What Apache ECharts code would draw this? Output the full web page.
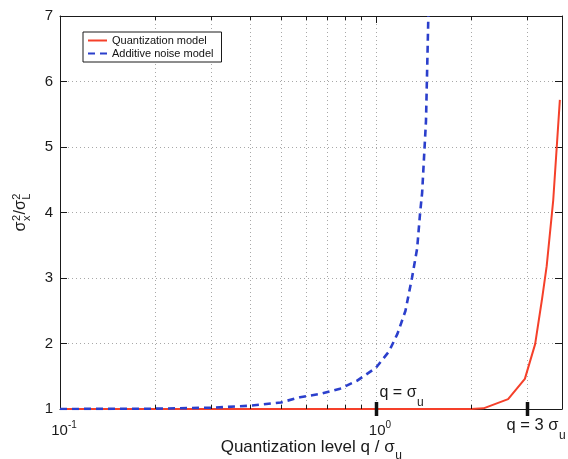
<!DOCTYPE html>
<html><head><meta charset="utf-8">
<script src="https://cdn.jsdelivr.net/npm/echarts@6/dist/echarts.min.js"></script>
<style>html,body{margin:0;padding:0;background:#fff}#c{width:568px;height:459px}</style>
</head><body><div id="c"></div>
<script>
// ---- data ----
const seriesNames = ['Quantization model', 'Additive noise model'];
const quantQ   = [0.1, 0.5, 1.0, 1.5, 2.0, 2.19, 2.62, 2.96, 3.19, 3.35, 3.47, 3.64, 3.82];
const quantVal = [1.0, 1.0, 1.0, 1.0, 1.0, 1.01, 1.15, 1.46, 1.99, 2.66, 3.18, 4.19, 5.72];
const addQ   = [0.1, 0.2, 0.3, 0.4, 0.5, 0.575, 0.665, 0.77, 0.87, 1.0, 1.1, 1.17, 1.24, 1.3, 1.35, 1.38, 1.4, 1.44, 1.465];
const addVal = [1.0, 1.005, 1.02, 1.05, 1.1, 1.18, 1.23, 1.31, 1.43, 1.63, 1.88, 2.15, 2.5, 3.0, 3.45, 4.0, 4.3, 5.4, 7.0];
const X_MIN = 0.1, X_MAX = 3.88;
const Y_MIN = 1, Y_MAX = 7, Y_STEP = 1;
const xMinorTicks = [0.2, 0.3, 0.4, 0.5, 0.6, 0.7, 0.8, 0.9, 2, 3];
const annotations = [
  { q: 1, text: 'q = \u03c3', sub: 'u', place: 'above' },
  { q: 3, text: 'q = 3 \u03c3', sub: 'u', place: 'below' }
];
const xName = 'Quantization level q / \u03c3', xNameSub = 'u';

// ---- style ----
const FONT = '"Liberation Sans", Arial, Helvetica, sans-serif';
const AX = '#1a1a1a', GRID = '#a8a8a8';
const RED = '#f5402a', BLUE = '#2b3fcc';

const cv = document.createElement('canvas').getContext('2d');
function tw(t, size) { cv.font = size + 'px ' + FONT; return cv.measureText(t).width; }

const chart = echarts.init(document.getElementById('c'));
function fmtLog(v) {
  const e = Math.log10(v), r = Math.round(e);
  if (Math.abs(e - r) > 1e-6) return '';
  return '{b|10}{s|' + r + '}';
}
const axisCommon = {
  axisLine: { show: true, onZero: false, lineStyle: { color: AX, width: 1 } },
  axisTick: { show: true, inside: true, length: 7, lineStyle: { color: AX, width: 1 } }
};
const option = {
  animation: false,
  backgroundColor: '#fff',
  textStyle: { fontFamily: FONT },
  grid: { left: 60, right: 6, top: 16, bottom: 50 },
  legend: {
    data: seriesNames, orient: 'vertical', left: 83, top: 32,
    itemWidth: 19, itemHeight: 10, itemGap: 2,
    padding: [3, 8, 3, 4],
    borderColor: AX, borderWidth: 1, backgroundColor: '#fff',
    itemStyle: { opacity: 0 },
    textStyle: { fontSize: 11, color: '#111', fontFamily: FONT }
  },
  xAxis: [
    Object.assign({
      type: 'log', logBase: 10, min: X_MIN, max: X_MAX, position: 'bottom',
      axisLabel: { formatter: fmtLog, margin: 11, color: AX,
        rich: { b: { fontSize: 15, color: AX, lineHeight: 18, verticalAlign: 'bottom', fontFamily: FONT, padding: [0, 0, 0, 8] },
                s: { fontSize: 10, color: AX, lineHeight: 10, verticalAlign: 'top', fontFamily: FONT } } },
      splitLine: { show: true, lineStyle: { color: GRID, type: [1, 3], width: 1 } }
    }, axisCommon),
    Object.assign({
      type: 'log', logBase: 10, min: X_MIN, max: X_MAX, position: 'top',
      axisLabel: { show: false }, splitLine: { show: false }
    }, axisCommon)
  ],
  yAxis: [
    Object.assign({
      type: 'value', min: Y_MIN, max: Y_MAX, interval: Y_STEP, position: 'left',
      axisLabel: { fontSize: 15, color: AX, margin: 7, fontFamily: FONT },
      splitLine: { show: true, lineStyle: { color: GRID, type: [1, 3], width: 1 } }
    }, axisCommon),
    Object.assign({
      type: 'value', min: Y_MIN, max: Y_MAX, interval: Y_STEP, position: 'right',
      axisLabel: { show: false }, splitLine: { show: false }
    }, axisCommon)
  ],
  series: [
    { name: seriesNames[0], type: 'line', data: quantQ.map((q, i) => [q, quantVal[i]]),
      symbol: 'none', showSymbol: false, z: 3, clip: true,
      lineStyle: { color: RED, width: 2 }, itemStyle: { color: RED } },
    { name: seriesNames[1], type: 'line', data: addQ.map((q, i) => [q, addVal[i]]),
      symbol: 'none', showSymbol: false, z: 4, clip: true,
      lineStyle: { color: BLUE, width: 2.6, type: [7, 5] }, itemStyle: { color: BLUE } }
  ]
};
chart.setOption(option);

// ---- decorations placed through the axes' scales ----
const px = v => chart.convertToPixel({ xAxisIndex: 0 }, v);
const py = v => chart.convertToPixel({ yAxisIndex: 0 }, v);
const yTop = py(Y_MAX), yBot = py(Y_MIN);
const g = [];
xMinorTicks.forEach(v => {
  const x = Math.round(px(v)) + 0.5;
  g.push({ type: 'line', silent: true, z: 1, shape: { x1: x, y1: yTop, x2: x, y2: yBot },
    style: { stroke: GRID, lineWidth: 1, lineDash: [1, 3] } });
  g.push({ type: 'line', silent: true, z: 5, shape: { x1: x, y1: yBot, x2: x, y2: yBot - 4 },
    style: { stroke: AX, lineWidth: 1 } });
  g.push({ type: 'line', silent: true, z: 5, shape: { x1: x, y1: yTop, x2: x, y2: yTop + 4 },
    style: { stroke: AX, lineWidth: 1 } });
});
function subText(x, baseline, text, size, sub, subSize, subDrop) {
  const w = tw(text, size);
  g.push({ type: 'text', silent: true, z: 10, x: x, y: baseline,
    style: { text: text, fontSize: size, fontFamily: FONT, fill: AX, align: 'left', verticalAlign: 'bottom' } });
  g.push({ type: 'text', silent: true, z: 10, x: x + w + 0.5, y: baseline + subDrop,
    style: { text: sub, fontSize: subSize, fontFamily: FONT, fill: AX, align: 'left', verticalAlign: 'bottom' } });
  return w + tw(sub, subSize);
}
annotations.forEach(a => {
  const x = Math.round(px(a.q)) + 0.5;
  g.push({ type: 'line', silent: true, z: 10, shape: { x1: x, y1: yBot - 7, x2: x, y2: yBot + 7 },
    style: { stroke: '#111', lineWidth: 3.5 } });
  if (a.place === 'above') subText(x + 3, yBot - 8, a.text, 16, a.sub, 12, 8);
  else subText(x - 21, yBot + 25, a.text, 16.5, a.sub, 12, 8);
});
// x axis title
{
  const w = tw(xName, 17) + tw(xNameSub, 12);
  const cx = (px(X_MIN) + px(X_MAX)) / 2;
  subText(cx - w / 2, 456, xName, 17, xNameSub, 12, 6);
}
// y axis title  sigma_x^2 / sigma_L^2 (rotated)
{
  const S = 16, s = 11;
  const ws = tw('\u03c3', S), w2 = tw('2', s), wsl = tw('/', S);
  const parts = [];
  let lx = 0;
  const push = (t, size, x, y) => parts.push({ type: 'text', x: x, y: y,
    style: { text: t, fontSize: size, fontFamily: FONT, fill: AX, align: 'left', verticalAlign: 'bottom' } });
  push('\u03c3', S, lx, 3); lx += ws + 0.5;
  push('2', s, lx, -4); push('x', s, lx, 6); lx += Math.max(w2, tw('x', s)) + 0.5;
  push('/', S, lx, 3); lx += wsl;
  push('\u03c3', S, lx, 3); lx += ws + 0.5;
  push('2', s, lx, -4); push('L', s, lx, 6); lx += Math.max(w2, tw('L', s));
  parts.forEach(p => { p.x -= lx / 2; });
  g.push({ type: 'group', silent: true, z: 10, x: 26, y: (yTop + yBot) / 2, rotation: Math.PI / 2, children: parts });
}
chart.setOption({ graphic: g });
</script></body></html>
